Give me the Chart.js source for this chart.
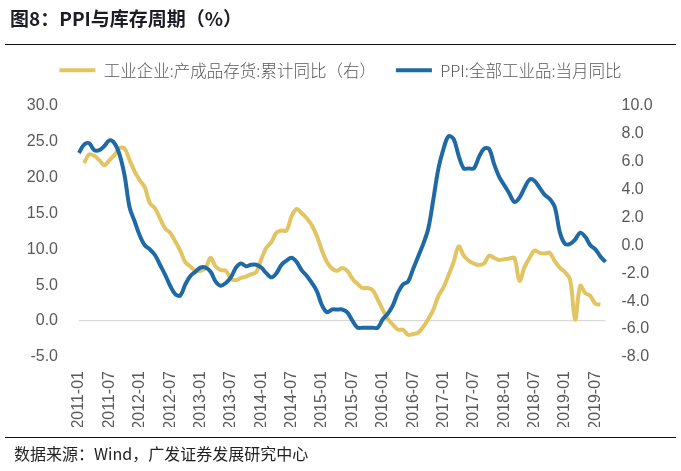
<!DOCTYPE html>
<html>
<head>
<meta charset="utf-8">
<script src="https://cdn.jsdelivr.net/npm/chart.js@4.4.0/dist/chart.umd.min.js"></script>
<style>
  body { margin: 0; background: #fff; }
  #wrap { position: relative; width: 681px; height: 471px; overflow: hidden; }
  #chart { position: absolute; left: 0; top: 0; }
  .title { position: absolute; left: 10px; top: 4px; font: bold 19px "Noto Sans CJK SC", sans-serif; color: #1c1c24; }
  .rule { position: absolute; left: 5px; width: 671px; height: 0; border-top: 1.5px solid #111; }
  .source { position: absolute; left: 14px; top: 441px; font: 16px "Noto Sans CJK SC", "Liberation Sans", sans-serif; color: #222; }
</style>
</head>
<body>
<div id="wrap">
  <canvas id="chart" width="681" height="471"></canvas>
  <div class="title">图8：PPI与库存周期（%）</div>
  <div class="rule" style="top:44px"></div>
  <div class="rule" style="top:437px"></div>
  <div class="source">数据来源：Wind，广发证券发展研究中心</div>
</div>
<script>
// ------------------------------------------------------
// Dados
// ------------------------------------------------------
const START_YEAR = 2011;
const MONTHS = 105; // 2011-01 .. 2019-09

const months = [];
for (let i = 0; i < MONTHS; i++) {
  const y = START_YEAR + Math.floor(i / 12);
  const m = (i % 12) + 1;
  months.push(y + "-" + (m < 10 ? "0" + m : m));
}

// PPI:全部工业品:当月同比 (eixo direito)
const ppi = [
  6.6, 7.2, 7.3, 6.8, 6.8, 7.1, 7.5, 7.3, 6.5, 5.0, 2.7, 1.7,
  0.7, 0.0, -0.3, -0.7, -1.4, -2.1, -2.9, -3.5, -3.6, -2.8, -2.2, -1.9,
  -1.6, -1.6, -1.9, -2.6, -2.9, -2.7, -2.3, -1.6, -1.3, -1.5, -1.4, -1.4,
  -1.6, -2.0, -2.3, -2.0, -1.4, -1.1, -0.9, -1.2, -1.8, -2.2, -2.7, -3.3,
  -4.3, -4.8, -4.6, -4.6, -4.6, -4.8, -5.4, -5.9, -5.9, -5.9, -5.9, -5.9,
  -5.3, -4.9, -4.3, -3.4, -2.8, -2.6, -1.7, -0.8, 0.1, 1.2, 3.3, 5.5,
  6.9, 7.8, 7.6, 6.4, 5.5, 5.5, 5.5, 6.3, 6.9, 6.9, 5.8, 4.9,
  4.3, 3.7, 3.1, 3.4, 4.1, 4.7, 4.6, 4.1, 3.6, 3.3, 2.7, 0.9,
  0.1, 0.1, 0.4, 0.9, 0.6, 0.0, -0.3, -0.8, -1.2
];

// 工业企业:产成品存货:累计同比 (eixo esquerdo)
const inventory = [
  null, 22.0, 23.2, 23.0, 22.4, 21.7, 22.4, 23.1, 24.1, 24.0, 22.4, 20.8,
  19.6, 18.6, 16.4, 15.7, 14.3, 12.9, 12.3, 11.1, 9.8, 8.2, 7.6, 7.0,
  7.0, 7.4, 8.8, 7.6, 7.1, 7.0, 5.9, 5.7, 6.0, 6.2, 6.5, 6.8,
  8.6, 10.2, 11.0, 12.3, 12.6, 12.6, 14.6, 15.6, 15.0, 14.3, 13.3, 11.8,
  9.8, 8.2, 7.3, 7.0, 7.4, 7.0, 5.9, 5.2, 4.6, 4.6, 4.3, 3.0,
  1.6, 0.3, -0.5, -1.2, -1.2, -1.9, -1.8, -1.6, -0.8, 0.3, 1.6, 3.5,
  4.7, 6.4, 8.2, 10.4, 9.1, 8.4, 8.0, 7.8, 8.0, 9.1, 8.8, 8.5,
  8.6, 8.7, 8.8, 5.6, 7.5, 8.8, 9.8, 9.5, 9.4, 9.5, 8.3, 7.4,
  6.8, 5.8, 0.2, 4.9, 3.9, 3.5, 2.4, 2.3, null
];

const leftTicks = [-5, 0, 5, 10, 15, 20, 25, 30];
const rightTicks = [-8, -6, -4, -2, 0, 2, 4, 6, 8, 10];

const COR_AZUL = "#1f6aa5";
const COR_AMARELO = "#e2c462";
const COR_TEXTO = "#595959";

// legenda mais alta, para empurrar a area do grafico para baixo
const legendSpace = {
  id: "legendSpace",
  beforeInit(chart) {
    const fit = chart.legend.fit;
    chart.legend.fit = function () {
      fit.bind(chart.legend)();
      this.height += 17;
    };
  }
};

new Chart(document.getElementById("chart"), {
  type: "line",
  data: {
    labels: months,
    datasets: [
      {
        label: "PPI:全部工业品:当月同比",
        data: ppi,
        yAxisID: "y1",
        borderColor: COR_AZUL,
        backgroundColor: COR_AZUL,
        borderWidth: 4,
        pointRadius: 0,
        tension: 0.35
      },
      {
        label: "工业企业:产成品存货:累计同比（右）",
        data: inventory,
        yAxisID: "y",
        borderColor: COR_AMARELO,
        backgroundColor: COR_AMARELO,
        borderWidth: 4,
        pointRadius: 0,
        tension: 0.35
      }
    ]
  },
  options: {
    responsive: false,
    animation: false,
    layout: { padding: { top: 42, bottom: 44, left: 0, right: 0 } },
    plugins: {
      legend: {
        reverse: true,
        labels: {
          usePointStyle: true,
          pointStyle: "line",
          pointStyleWidth: 36,
          padding: 20,
          color: COR_TEXTO,
          font: { family: "'Noto Sans CJK SC', sans-serif", size: 16.5, weight: "300" }
        }
      },
      tooltip: { enabled: false }
    },
    scales: {
      x: {
        offset: false,
        grid: { display: false },
        border: { display: false },
        ticks: {
          autoSkip: false,
          minRotation: 90,
          maxRotation: 90,
          padding: 6,
          color: COR_TEXTO,
          font: { family: "'Liberation Sans', Arial, sans-serif", size: 16 },
          callback: function (v, i) { return i % 6 === 0 ? months[i] : null; }
        },
        afterFit: function (s) { s.height = 70; }
      },
      y: {
        position: "left",
        min: -5,
        max: 30,
        afterBuildTicks: function (s) { s.ticks = leftTicks.map(v => ({ value: v })); },
        grid: {
          drawTicks: false,
          color: ctx => (ctx.tick && ctx.tick.value === 0 ? "#d9d9d9" : "rgba(0,0,0,0)"),
          lineWidth: 1.2
        },
        border: { display: false },
        ticks: {
          padding: 21,
          color: COR_TEXTO,
          font: { family: "'Liberation Sans', Arial, sans-serif", size: 16 },
          callback: v => v.toFixed(1)
        },
        afterFit: function (s) { s.width = 79; }
      },
      y1: {
        position: "right",
        min: -8,
        max: 10,
        afterBuildTicks: function (s) { s.ticks = rightTicks.map(v => ({ value: v })); },
        grid: { display: false, drawTicks: false },
        border: { display: false },
        ticks: {
          padding: 16,
          color: COR_TEXTO,
          font: { family: "'Liberation Sans', Arial, sans-serif", size: 16 },
          callback: v => v.toFixed(1)
        },
        afterFit: function (s) { s.width = 75.5; }
      }
    }
  },
  plugins: [legendSpace]
});
</script>
</body>
</html>
